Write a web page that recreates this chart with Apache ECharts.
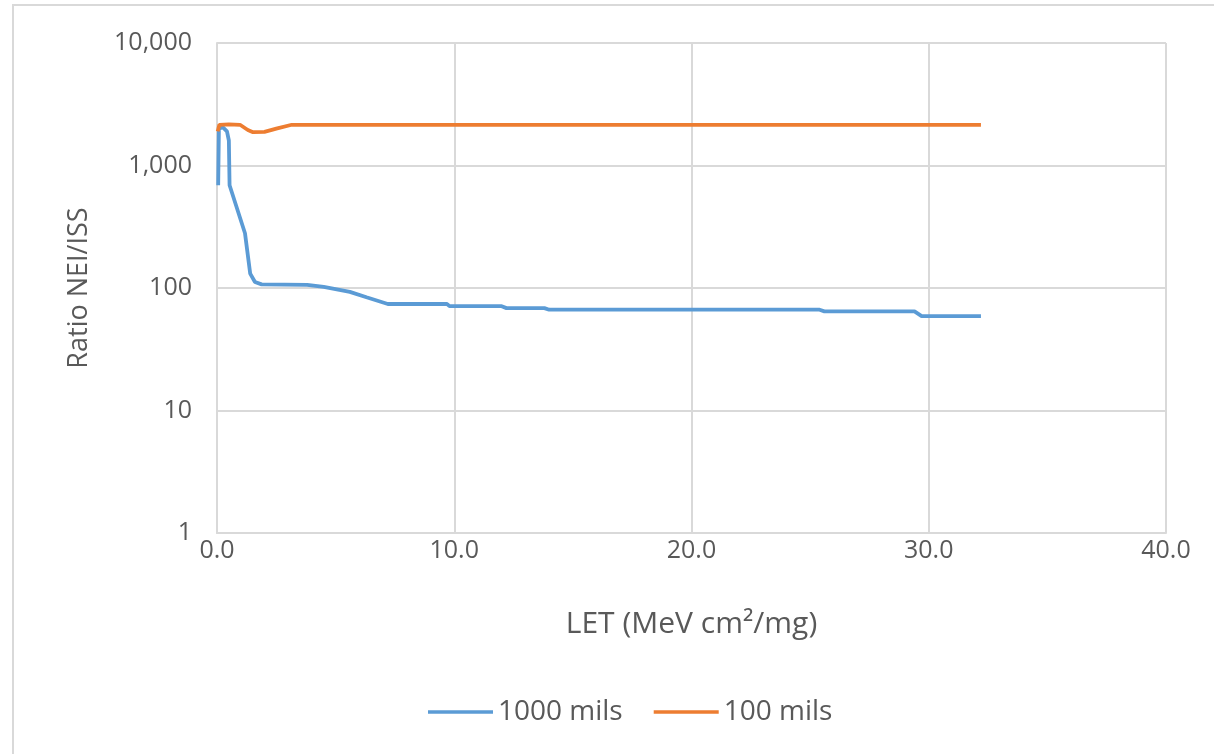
<!DOCTYPE html>
<html>
<head>
<meta charset="utf-8">
<script src="https://cdn.jsdelivr.net/npm/echarts@6/dist/echarts.min.js"></script>
<style>
  html, body { margin: 0; padding: 0; background: #ffffff; }
  #chart { width: 1214px; height: 754px; }
</style>
</head>
<body>
<div id="chart"></div>
<script>
// LET values (MeV cm²/mg) and NEI/ISS ratios for the two shielding depths
const let1000 = [0.05, 0.08, 0.25, 0.42, 0.5, 0.53, 1.18, 1.4, 1.6, 1.88, 3.8, 4.5, 5.6, 6.3, 7.2, 9.7, 9.8, 12.0, 12.2, 13.8, 14.0, 25.4, 25.6, 29.4, 29.7, 32.2];
const ratio1000 = [690, 2000, 2050, 1900, 1600, 690, 280, 131, 112, 107, 106, 102, 93, 84, 74, 74, 71, 71, 68.5, 68.5, 66.5, 66.5, 64.5, 64.5, 59, 59];

const let100 = [0.03, 0.1, 0.5, 0.97, 1.3, 1.52, 2.0, 2.5, 3.15, 32.2];
const ratio100 = [1900, 2150, 2170, 2150, 1950, 1870, 1880, 2000, 2150, 2150];

const seriesNames = ['1000 mils', '100 mils'];
const xTicks = [0, 10, 20, 30, 40];

const pair = (xs, ys) => xs.map((x, i) => [x, ys[i]]);

const font = '"Open Sans", Lato, sans-serif';
const textGray = '#595959';
const gridGray = '#d9d9d9';

const chart = echarts.init(document.getElementById('chart'), null, { renderer: 'canvas' });

chart.setOption({
  backgroundColor: '#ffffff',
  animation: false,
  textStyle: { fontFamily: font },
  graphic: [{
    type: 'rect',
    shape: { x: 13, y: 5, width: 1400, height: 900 },
    style: { fill: 'none', stroke: gridGray, lineWidth: 2 },
    silent: true,
    z: -1
  }],
  grid: { left: 217, right: 48, top: 43, bottom: 221, containLabel: false },
  legend: {
    bottom: 23,
    left: 423,
    icon: 'rect',
    itemWidth: 65,
    itemHeight: 3.5,
    itemGap: 31,
    textStyle: { color: textGray, fontSize: 28, fontFamily: font },
    data: seriesNames
  },
  xAxis: {
    type: 'value',
    min: xTicks[0],
    max: xTicks[xTicks.length - 1],
    interval: 10,
    name: 'LET (MeV cm²/mg)',
    nameLocation: 'middle',
    nameGap: 76,
    nameTextStyle: { color: textGray, fontSize: 30, fontFamily: font },
    axisLine: { show: true, lineStyle: { color: gridGray, width: 2 } },
    axisTick: { show: false },
    axisLabel: {
      color: textGray, fontSize: 25, fontFamily: font, margin: 5,
      formatter: v => v.toFixed(1)
    },
    splitLine: { show: true, lineStyle: { color: gridGray, width: 2 } }
  },
  yAxis: {
    type: 'log',
    logBase: 10,
    min: 1,
    max: 10000,
    name: 'Ratio NEI/ISS',
    nameLocation: 'middle',
    nameGap: 124,
    nameTextStyle: { color: textGray, fontSize: 27, fontFamily: font },
    axisLine: { show: true, lineStyle: { color: gridGray, width: 2 } },
    axisTick: { show: false },
    axisLabel: {
      color: textGray, fontSize: 25, fontFamily: font, margin: 25,
      formatter: v => Math.round(v).toLocaleString('en-US')
    },
    splitLine: { show: true, lineStyle: { color: gridGray, width: 2 } }
  },
  series: [
    {
      name: seriesNames[0],
      type: 'line',
      data: pair(let1000, ratio1000),
      symbol: 'none',
      smooth: false,
      lineStyle: { color: '#5b9bd5', width: 3.8 },
      itemStyle: { color: '#5b9bd5' }
    },
    {
      name: seriesNames[1],
      type: 'line',
      data: pair(let100, ratio100),
      symbol: 'none',
      smooth: false,
      lineStyle: { color: '#ed7d31', width: 3.8 },
      itemStyle: { color: '#ed7d31' }
    }
  ]
});
</script>
</body>
</html>
